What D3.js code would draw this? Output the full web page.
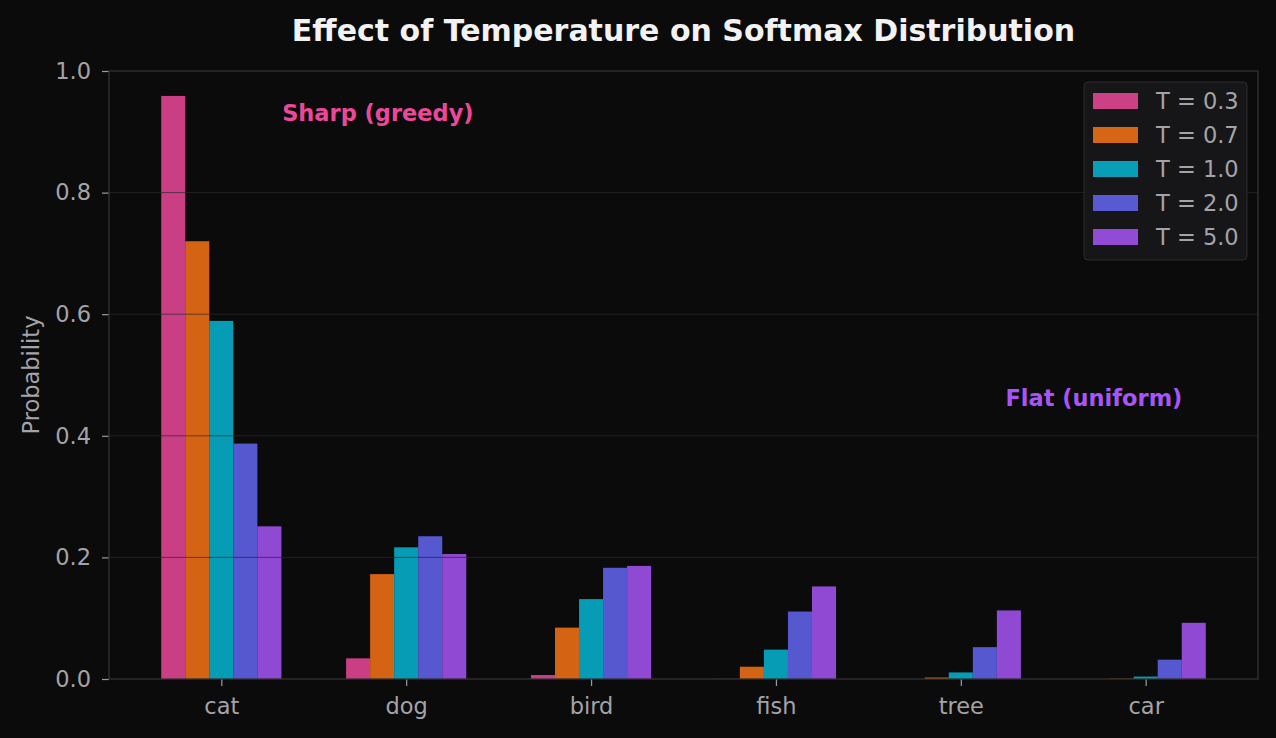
<!DOCTYPE html>
<html>
<head>
<meta charset="utf-8">
<script src="https://cdn.jsdelivr.net/npm/d3@7"></script>
<style>
  html, body { margin: 0; padding: 0; background: #0b0b0b; }
  svg { display: block; font-family: "DejaVu Sans", sans-serif; }
</style>
</head>
<body>
<div id="chart"></div>
<script>
// categories and temperature series
var categories = ["cat", "dog", "bird", "fish", "tree", "car"];
var temps = ["T = 0.3", "T = 0.7", "T = 1.0", "T = 2.0", "T = 5.0"];
var colors = ["#ec4899", "#f97316", "#06b6d4", "#6366f1", "#a855f7"];

var t03 = [0.959, 0.034, 0.0065, 0.0002, 0.0, 0.0];
var t07 = [0.720, 0.1725, 0.0845, 0.0202, 0.0024, 0.0006];
var t10 = [0.589, 0.2166, 0.1314, 0.0483, 0.0108, 0.0040];
var t20 = [0.3872, 0.2348, 0.1829, 0.1109, 0.0524, 0.0318];
var t50 = [0.2511, 0.2055, 0.1860, 0.1523, 0.1128, 0.0924];
var series = [t03, t07, t10, t20, t50];

var yTicks = [0, 0.2, 0.4, 0.6, 0.8, 1.0];
var gridTicks = [0.2, 0.4, 0.6, 0.8];

var W = 1276, H = 738;
var margin = {top: 71, right: 18, bottom: 59, left: 109};
var width = W - margin.left - margin.right,
    height = H - margin.top - margin.bottom;
var fs = "22.5px";

var svg = d3.select("#chart").append("svg")
    .attr("width", W)
    .attr("height", H)
    .style("background-color", "#0b0b0b");

var barW = 0.13;
var x = d3.scaleLinear().domain([-0.6075, 5.6075]).range([0, width]);
var y = d3.scaleLinear().domain([0, 1]).range([height, 0]);

var g = svg.append("g")
    .attr("transform", "translate(" + margin.left + "," + margin.top + ")");

// bars
series.forEach(function(vals, i) {
  g.append("g").selectAll("rect")
    .data(vals)
    .enter().append("rect")
      .attr("x", function(d, j) { return x(j + (i - 2) * barW - barW / 2); })
      .attr("y", function(d) { return y(d); })
      .attr("width", x(barW) - x(0))
      .attr("height", function(d) { return height - y(d); })
      .attr("fill", colors[i])
      .attr("fill-opacity", 0.85);
});

// grid on top of bars, like the original
g.append("g").selectAll("line")
  .data(gridTicks)
  .enter().append("line")
    .attr("x1", 0).attr("x2", width)
    .attr("y1", function(d) { return y(d); })
    .attr("y2", function(d) { return y(d); })
    .attr("stroke", "#2a2a2a")
    .attr("stroke-opacity", 0.7)
    .attr("stroke-width", 1);

// axes
var xAxis = g.append("g")
    .attr("transform", "translate(0," + height + ")")
    .call(d3.axisBottom(x)
      .tickValues(d3.range(categories.length))
      .tickFormat(function(d) { return categories[d]; })
      .tickSize(7).tickPadding(12));
var yAxis = g.append("g")
    .call(d3.axisLeft(y).tickValues(yTicks).tickFormat(d3.format(".1f"))
      .tickSize(7).tickPadding(11));

[xAxis, yAxis].forEach(function(a) {
  a.select(".domain").remove();
  a.selectAll(".tick line").attr("stroke", "#9a9aa0").attr("stroke-width", 1.2);
  a.selectAll(".tick text")
    .attr("fill", "#a3a3a8")
    .style("font-size", fs)
    .style("font-family", "DejaVu Sans, sans-serif");
});

// frame
g.append("rect")
  .attr("x", 0).attr("y", 0)
  .attr("width", width).attr("height", height)
  .attr("fill", "none")
  .attr("stroke", "#333333")
  .attr("stroke-width", 1.3);

// labels
svg.append("text")
  .attr("x", margin.left + width / 2)
  .attr("y", 41)
  .attr("text-anchor", "middle")
  .attr("fill", "#f2f2f2")
  .style("font-size", "30px")
  .style("font-weight", "bold")
  .text("Effect of Temperature on Softmax Distribution");

svg.append("text")
  .attr("transform", "translate(31," + (margin.top + height / 2) + ") rotate(-90)")
  .attr("text-anchor", "middle")
  .attr("dy", "0.35em")
  .attr("fill", "#a3a3a8")
  .style("font-size", fs)
  .text("Probability");

// annotations
g.append("text")
  .attr("x", x(0.847)).attr("y", y(0.93))
  .attr("dy", "0.35em")
  .attr("text-anchor", "middle")
  .attr("fill", "#ec4899")
  .style("font-size", fs).style("font-weight", "bold")
  .text("Sharp (greedy)");
g.append("text")
  .attr("x", x(4.72)).attr("y", y(0.462))
  .attr("dy", "0.35em")
  .attr("text-anchor", "middle")
  .attr("fill", "#a855f7")
  .style("font-size", fs).style("font-weight", "bold")
  .text("Flat (uniform)");

// legend
var lg = svg.append("g").attr("transform", "translate(1084,82)");
lg.append("rect")
  .attr("width", 163).attr("height", 178)
  .attr("rx", 4)
  .attr("fill", "#161618")
  .attr("stroke", "#2c2c2e");
temps.forEach(function(t, i) {
  var row = lg.append("g").attr("transform", "translate(0," + (19 + i * 34) + ")");
  row.append("rect")
    .attr("x", 9).attr("y", -8)
    .attr("width", 45).attr("height", 16)
    .attr("fill", colors[i]).attr("fill-opacity", 0.85);
  row.append("text")
    .attr("x", 72).attr("dy", "0.35em")
    .attr("fill", "#a3a3a8")
    .style("font-size", fs)
    .text(t);
});
</script>
</body>
</html>
